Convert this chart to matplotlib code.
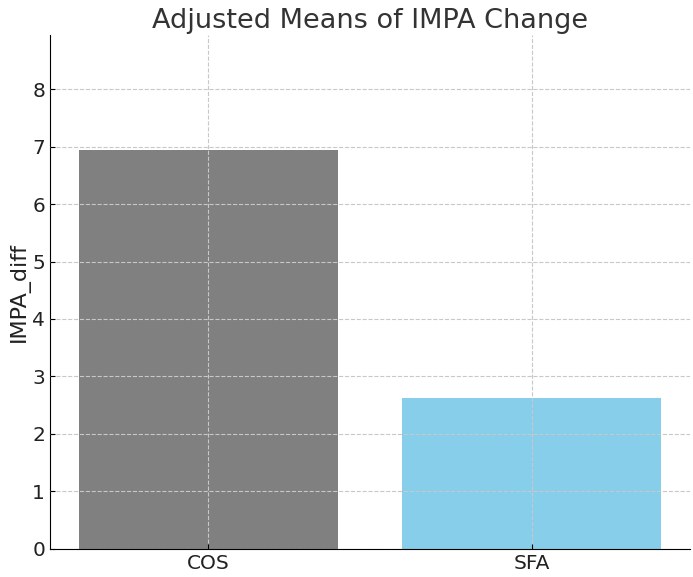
import matplotlib.pyplot as plt

groups = ["COS", "SFA"]
adjusted_means = [6.94, 2.63]
bar_colors = ["gray", "skyblue"]

fig = plt.figure(figsize=(6.93, 5.77), dpi=100)
ax = fig.add_axes([0.072, 0.049, 0.924, 0.89])

ax.bar(groups, adjusted_means, color=bar_colors, zorder=2)
ax.set_ylim(0, 8.94)
ax.set_title("Adjusted Means of IMPA Change", fontsize=19.5, color="#333333", pad=5)
ax.set_ylabel("IMPA_diff", fontsize=16, color="#222222", labelpad=2)
ax.grid(True, linestyle="--", color="#c8c8c8", linewidth=0.8, zorder=0)
ax.set_axisbelow(False)
ax.spines["top"].set_visible(False)
ax.spines["right"].set_visible(False)
ax.tick_params(direction="in", labelsize=14.5, labelcolor="#222222")

plt.savefig("out.png")
